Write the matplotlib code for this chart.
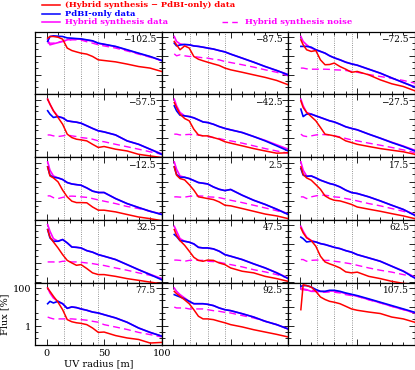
import numpy as np
import matplotlib
matplotlib.use('Agg')
import matplotlib.pyplot as plt
from matplotlib.lines import Line2D
from matplotlib.ticker import LogLocator, MultipleLocator, NullFormatter, FixedLocator

# UV radius [m] at which the curves were read
radius = [1, 3, 6, 10, 14, 18, 22, 26, 30, 35, 40, 45, 50, 60, 70, 80, 90, 100]

# channel velocities, one per panel
velocity = [-102.5, -87.5, -72.5, -57.5, -42.5, -27.5, -12.5, 2.5, 17.5,
            32.5, 47.5, 62.5, 77.5, 92.5, 107.5]

# PdBI-only data [%]
pdbi = [
    [60, 109, 118, 113, 109, 92, 89, 85, 82, 73, 65, 49, 43, 33, 22, 14.6, 9.8, 6.0],
    [49, 35, 39, 42, 40, 35, 33, 30, 27, 24, 20, 17, 13, 8.0, 4.9, 2.9, 1.8, 1.06],
    [33, 33, 33, 30, 22, 18, 14.6, 10.6, 8.3, 6.5, 4.9, 4.0, 3.4, 2.1, 1.3, 0.73, 0.42, 0.24],
    [27, 18, 12, 13.4, 11.5, 8.0, 7.3, 6.8, 6.0, 4.4, 3.2, 2.4, 2.1, 1.45, 0.71, 0.47, 0.26, 0.14],
    [49, 27, 15.8, 14.6, 13.4, 11.5, 9.0, 7.0, 6.5, 5.3, 4.0, 3.2, 2.7, 1.95, 1.2, 0.71, 0.39, 0.21],
    [33, 13.4, 18, 18, 14.6, 12, 9.8, 8.0, 7.0, 5.3, 3.9, 3.2, 2.7, 1.6, 0.98, 0.58, 0.36, 0.21],
    [60, 22, 17, 15.8, 13, 9.0, 7.6, 7.0, 6.5, 4.7, 3.2, 2.7, 2.7, 1.3, 0.71, 0.44, 0.28, 0.19],
    [60, 24, 17, 17, 14.6, 11.5, 9.0, 8.3, 7.6, 5.3, 4.0, 3.4, 3.9, 1.95, 1.06, 0.64, 0.36, 0.19],
    [49, 22, 19, 20, 15.8, 12, 9.8, 8.0, 7.0, 5.3, 3.6, 2.7, 2.4, 1.6, 0.98, 0.58, 0.35, 0.17],
    [60, 22, 14.6, 14.6, 18, 12, 7.3, 7.0, 6.5, 4.7, 3.9, 2.9, 2.4, 1.6, 0.87, 0.47, 0.26, 0.14],
    [33, 26, 15.8, 14.6, 13, 10.6, 7.0, 6.5, 6.5, 5.8, 4.4, 2.9, 2.4, 1.6, 0.95, 0.58, 0.32, 0.16],
    [24, 20, 13.4, 14.6, 13.4, 11, 9.8, 8.3, 7.0, 6.0, 4.7, 3.9, 2.9, 1.95, 1.3, 0.71, 0.39, 0.17],
    [15, 20, 16.5, 20, 15, 8.6, 10.2, 9.4, 8.0, 6.8, 5.5, 4.9, 4.0, 2.7, 1.6, 0.80, 0.47, 0.30],
    [45, 40, 34, 27, 20, 15, 15, 15, 14, 12, 9.0, 7.3, 6.5, 4.5, 3.0, 1.8, 1.2, 0.71],
    [123, 134, 134, 113, 84, 67, 67, 76, 76, 67, 55, 47, 40, 27, 18, 12, 8.0, 5.3],
]

# Hybrid synthesis data [%]
hybrid = [
    [73, 40, 45, 52, 60, 73, 79, 80, 79, 70, 63, 47, 42, 32, 21, 14, 9.4, 6.0],
    [109, 60, 45, 40, 40, 35, 33, 30, 27, 24, 20, 17, 13, 8.0, 4.9, 2.9, 1.8, 1.1],
    [109, 60, 40, 27, 22, 18, 14.6, 10.6, 8.3, 6.5, 4.9, 4.0, 3.4, 2.1, 1.3, 0.73, 0.42, 0.25],
    [109, 60, 27, 13.4, 11.5, 8.0, 7.3, 6.8, 6.0, 4.4, 3.2, 2.4, 2.1, 1.45, 0.71, 0.47, 0.26, 0.15],
    [109, 49, 22, 14.6, 13.4, 11.5, 9.0, 7.0, 6.5, 5.3, 4.0, 3.2, 2.7, 1.95, 1.2, 0.75, 0.44, 0.26],
    [109, 49, 22, 18, 14.6, 12, 9.8, 8.0, 7.0, 5.3, 3.9, 3.2, 2.7, 1.6, 0.98, 0.6, 0.38, 0.23],
    [109, 40, 20, 15.8, 13, 9.0, 7.6, 7.0, 6.5, 4.7, 3.2, 2.7, 2.7, 1.3, 0.71, 0.44, 0.28, 0.2],
    [109, 45, 20, 17, 14.6, 11.5, 9.0, 8.3, 7.6, 5.3, 4.0, 3.4, 3.9, 1.95, 1.06, 0.64, 0.36, 0.2],
    [109, 40, 20, 20, 15.8, 12, 9.8, 8.0, 7.0, 5.3, 3.6, 2.7, 2.4, 1.6, 0.98, 0.58, 0.35, 0.18],
    [109, 49, 20, 14.6, 18, 12, 7.3, 7.0, 6.5, 4.7, 3.9, 2.9, 2.4, 1.6, 0.87, 0.47, 0.27, 0.16],
    [89, 49, 20, 14.6, 13, 10.6, 7.0, 6.5, 6.5, 5.8, 4.4, 2.9, 2.4, 1.6, 0.95, 0.58, 0.33, 0.17],
    [89, 49, 24, 15.8, 13.4, 11, 9.8, 8.3, 7.0, 6.0, 4.7, 3.9, 2.9, 1.95, 1.3, 0.72, 0.4, 0.19],
    [100, 55, 30, 20, 15, 8.6, 10.2, 9.4, 8.0, 6.8, 5.5, 4.9, 4.0, 2.7, 1.6, 0.80, 0.47, 0.30],
    [100, 67, 45, 30, 20, 15, 15, 15, 14, 12, 9.0, 7.3, 6.5, 4.5, 3.0, 1.8, 1.2, 0.71],
    [100, 89, 82, 67, 67, 67, 64, 70, 70, 62, 51, 44, 37, 25, 17, 11, 7.5, 5.0],
]

# (Hybrid synthesis - PdBI-only) data [%]
diff = [
    [89, 109, 109, 100, 79, 27, 20, 17, 14.6, 13, 9.8, 6.5, 6.0, 5.1, 3.9, 2.9, 2.4, 1.6],
    [60, 40, 22, 35, 27, 9.8, 7.0, 5.8, 4.9, 4.0, 3.3, 2.4, 1.95, 1.45, 1.06, 0.78, 0.54, 0.32],
    [73, 40, 22, 18, 20, 6.5, 3.6, 3.7, 4.4, 2.9, 2.1, 1.45, 1.6, 1.06, 0.58, 0.36, 0.26, 0.155],
    [109, 60, 27, 12, 5.3, 1.6, 1.06, 0.87, 0.80, 0.71, 0.47, 0.32, 0.36, 0.26, 0.21, 0.14, 0.115, 0.095],
    [73, 40, 18, 10.6, 8.0, 2.9, 1.45, 1.3, 1.3, 1.06, 0.87, 0.64, 0.54, 0.39, 0.28, 0.21, 0.16, 0.17],
    [89, 40, 22, 13.4, 8.0, 3.6, 1.6, 1.45, 1.3, 1.06, 0.71, 0.58, 0.47, 0.36, 0.28, 0.23, 0.19, 0.14],
    [60, 20, 15.8, 9.8, 3.6, 1.6, 0.95, 0.80, 0.80, 0.78, 0.47, 0.32, 0.32, 0.26, 0.19, 0.14, 0.115, 0.09],
    [60, 22, 14.6, 12.4, 7.0, 3.6, 1.6, 1.45, 1.3, 1.15, 0.87, 0.58, 0.54, 0.39, 0.28, 0.20, 0.16, 0.115],
    [60, 24, 15.8, 12, 7.0, 4.0, 1.8, 1.3, 1.06, 0.98, 0.80, 0.64, 0.47, 0.36, 0.28, 0.21, 0.16, 0.115],
    [60, 24, 13.4, 6.5, 2.9, 1.45, 1.06, 0.80, 0.87, 0.54, 0.32, 0.26, 0.26, 0.21, 0.16, 0.13, 0.105, 0.085],
    [60, 30, 15.8, 9.0, 4.4, 2.1, 1.45, 1.3, 1.5, 1.45, 1.06, 0.87, 0.58, 0.39, 0.32, 0.21, 0.16, 0.115],
    [73, 40, 22, 15.8, 8.0, 2.4, 1.2, 0.95, 0.78, 0.58, 0.36, 0.32, 0.35, 0.21, 0.16, 0.115, 0.09, 0.08],
    [100, 67, 37, 18, 7.3, 2.2, 1.7, 1.5, 1.4, 1.2, 0.80, 0.47, 0.49, 0.32, 0.24, 0.20, 0.13, 0.14],
    [67, 51, 37, 24, 15, 7.3, 3.3, 2.4, 2.4, 2.2, 1.8, 1.5, 1.2, 0.91, 0.65, 0.49, 0.37, 0.27],
    [7.3, 150, 134, 113, 67, 34, 25, 20, 18, 15, 11, 8.0, 6.8, 5.5, 4.6, 3.0, 2.4, 1.6],
]

# Hybrid synthesis noise [%]
noise = [
    [49, 49, 49, 55, 62, 67, 73, 73, 71, 58, 49, 40, 35, 27, 19, 13, 9.0, 6.0],
    [13.4, 10.6, 12, 10.6, 9.8, 9.8, 9.0, 8.3, 8.0, 7.0, 6.5, 5.3, 4.7, 3.6, 2.7, 1.95, 1.45, 0.95],
    [2.4, 2.4, 2.2, 2.1, 2.1, 2.1, 2.1, 2.05, 1.95, 1.9, 1.8, 1.6, 1.45, 1.1, 0.87, 0.69, 0.54, 0.39],
    [1.45, 1.45, 1.3, 1.2, 1.3, 1.45, 1.3, 1.2, 1.06, 0.98, 0.87, 0.71, 0.64, 0.47, 0.35, 0.26, 0.19, 0.14],
    [1.6, 1.6, 1.45, 1.5, 1.55, 1.5, 1.45, 1.3, 1.2, 1.06, 0.95, 0.80, 0.71, 0.54, 0.39, 0.28, 0.21, 0.16],
    [1.6, 1.3, 1.2, 1.3, 1.45, 1.55, 1.5, 1.45, 1.3, 1.15, 0.95, 0.80, 0.71, 0.54, 0.42, 0.32, 0.24, 0.17],
    [1.8, 1.8, 1.45, 1.3, 1.5, 1.7, 1.75, 1.7, 1.6, 1.5, 1.3, 1.1, 0.95, 0.71, 0.5, 0.39, 0.28, 0.19],
    [1.6, 1.6, 1.55, 1.55, 1.7, 1.8, 1.8, 1.75, 1.6, 1.55, 1.45, 1.25, 1.06, 0.80, 0.58, 0.42, 0.30, 0.20],
    [1.6, 1.6, 1.3, 1.6, 1.8, 1.95, 1.95, 1.8, 1.6, 1.5, 1.3, 1.15, 0.98, 0.71, 0.54, 0.39, 0.28, 0.19],
    [1.2, 1.2, 1.2, 1.15, 1.3, 1.3, 1.2, 1.2, 1.15, 1.06, 0.98, 0.87, 0.78, 0.58, 0.44, 0.32, 0.24, 0.16],
    [1.5, 1.5, 1.45, 1.3, 1.45, 1.5, 1.45, 1.45, 1.3, 1.25, 1.15, 1.0, 0.87, 0.66, 0.47, 0.36, 0.26, 0.17],
    [1.6, 1.6, 1.3, 1.45, 1.5, 1.5, 1.45, 1.45, 1.3, 1.2, 1.06, 0.95, 0.80, 0.58, 0.44, 0.35, 0.26, 0.19],
    [3.0, 2.7, 2.4, 2.4, 2.4, 2.4, 2.4, 2.3, 2.2, 2.05, 1.8, 1.6, 1.2, 0.9, 0.67, 0.47, 0.36, 0.27],
    [10, 9.0, 9.0, 9.0, 8.0, 8.0, 8.0, 8.0, 7.3, 6.5, 6.0, 5.3, 4.9, 3.6, 2.7, 1.8, 1.2, 0.71],
    [82, 82, 76, 76, 67, 60, 60, 62, 60, 55, 45, 40, 37, 24, 16.5, 11, 7.3, 4.9],
]

# resolution markers [m]
markers = [15, 30, 45]

W, H = 415.0, 370.0
fig = plt.figure(figsize=(W / 100, H / 100), dpi=100)

serif = 'DejaVu Serif'
left, top = 35.0, 31.7
pw, ph = 126.6, 62.7

for k in range(len(velocity)):
    row, col = k // 3, k % 3
    x0 = (left + col * pw) / W
    y0 = 1 - (top + (row + 1) * ph) / H
    ax = fig.add_axes([x0, y0, pw / W, ph / H])

    for m in markers:
        ax.axvline(m, color='0.45', lw=0.6, ls=':', zorder=1)

    ax.plot(radius, hybrid[k], color='#ff00ff', lw=1.2, zorder=2)
    ax.plot(radius, pdbi[k], color='#0000ff', lw=1.2, zorder=3)
    ax.plot(radius, noise[k], color='#ff00ff', lw=1.0, ls=(0, (5, 3)), zorder=2)
    ax.plot(radius, diff[k], color='#ff0000', lw=1.1, zorder=4)

    ax.set_yscale('log')
    ax.set_xlim(-10, 100)
    ax.set_ylim(0.1, 195)
    ax.xaxis.set_major_locator(MultipleLocator(50))
    ax.xaxis.set_minor_locator(MultipleLocator(10))
    ax.yaxis.set_major_locator(FixedLocator([0.1, 1, 10, 100]))
    ax.yaxis.set_minor_locator(LogLocator(base=10, subs=[2.5, 5.0], numticks=10))
    ax.yaxis.set_minor_formatter(NullFormatter())
    ax.tick_params(which='both', direction='in', top=True, right=True,
                   width=0.6, labelsize=7, pad=3)
    ax.tick_params(which='major', length=4)
    ax.tick_params(which='minor', length=2)
    for s in ax.spines.values():
        s.set_linewidth(0.9)

    lab = '%.1f' % velocity[k]
    lab = lab.replace('-', '\u2212')
    ax.text(0.955, 0.87, lab, transform=ax.transAxes, ha='right', va='center',
            fontsize=6.5, family=serif)

    if row == 4 and col == 0:
        ax.set_xticks([0, 50, 100])
        ax.set_xticklabels(['0', '50', '100'], family=serif)
        ax.set_yticks([1, 100])
        ax.set_yticklabels(['1', '100'], family=serif)
        ax.set_xlabel('UV radius [m]', family=serif, fontsize=7, labelpad=1)
        ax.set_ylabel('Flux [%]', family=serif, fontsize=7, labelpad=2)
    else:
        ax.set_xticklabels([])
        ax.set_yticklabels([])

# legend drawn at top of figure
def fx(px):
    return px / W

def fy(py):
    return 1 - py / H

entries = [
    ('(Hybrid synthesis \u2212 PdBI-only) data', '#ff0000', '-', 42, 5.0, 65),
    ('PdBI-only data', '#0000ff', '-', 42, 13.5, 65),
    ('Hybrid synthesis data', '#ff00ff', '-', 42, 22.3, 65),
    ('Hybrid synthesis noise', '#ff00ff', '--', 222, 22.3, 245),
]
for text, color, ls, lx, ly, tx in entries:
    if ls == '-':
        fig.add_artist(Line2D([fx(lx), fx(lx + 18)], [fy(ly), fy(ly)],
                              color=color, lw=1.1, transform=fig.transFigure))
    else:
        fig.add_artist(Line2D([fx(lx), fx(lx + 18)], [fy(ly), fy(ly)],
                              color=color, lw=1.0, ls=(0, (4, 3)),
                              transform=fig.transFigure))
    fig.text(fx(tx), fy(ly), text, color=color, fontsize=6, family=serif,
             fontweight='bold', ha='left', va='center')

fig.savefig('out.png', dpi=100)
